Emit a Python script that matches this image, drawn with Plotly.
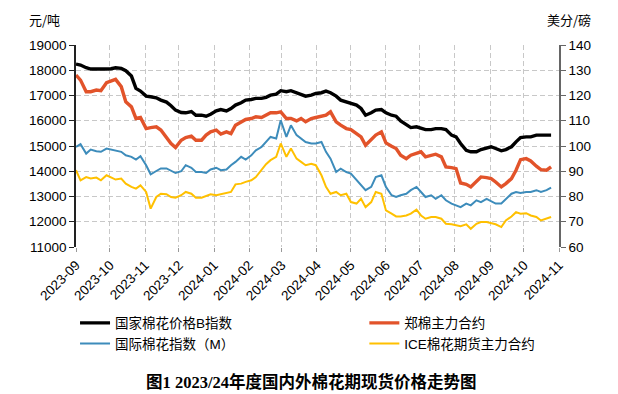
import plotly.graph_objects as go

dates = [
    "2023-09-01", "2023-09-05", "2023-09-10", "2023-09-14", "2023-09-19", "2023-09-23", "2023-09-28",
    "2023-10-02", "2023-10-06", "2023-10-11", "2023-10-15", "2023-10-20", "2023-10-24", "2023-10-28",
    "2023-11-02", "2023-11-06", "2023-11-11", "2023-11-15", "2023-11-20", "2023-11-24", "2023-11-28",
    "2023-12-03", "2023-12-07", "2023-12-12", "2023-12-16", "2023-12-21", "2023-12-25", "2023-12-29",
    "2024-01-03", "2024-01-07", "2024-01-12", "2024-01-16", "2024-01-20", "2024-01-25", "2024-01-29",
    "2024-02-03", "2024-02-07", "2024-02-12", "2024-02-16", "2024-02-20", "2024-02-25", "2024-02-29",
    "2024-03-05", "2024-03-09", "2024-03-14", "2024-03-18", "2024-03-22", "2024-03-27", "2024-03-31",
    "2024-04-05", "2024-04-09", "2024-04-13", "2024-04-18", "2024-04-22", "2024-04-27",
    "2024-05-01", "2024-05-06", "2024-05-10", "2024-05-14", "2024-05-19", "2024-05-23", "2024-05-28",
    "2024-06-01", "2024-06-06", "2024-06-10", "2024-06-14", "2024-06-19", "2024-06-23", "2024-06-28",
    "2024-07-02", "2024-07-06", "2024-07-11", "2024-07-15", "2024-07-20", "2024-07-24", "2024-07-29",
    "2024-08-02", "2024-08-06", "2024-08-11", "2024-08-15", "2024-08-20", "2024-08-24", "2024-08-29",
    "2024-09-02", "2024-09-06", "2024-09-11", "2024-09-15", "2024-09-20", "2024-09-24", "2024-09-28",
    "2024-10-03", "2024-10-07", "2024-10-12", "2024-10-16", "2024-10-21", "2024-10-25",
]

# 国家棉花价格B指数 (元/吨)
cc_index_b = [
    18246, 18206, 18100, 18047, 18047, 18034, 18047,
    18060, 18100, 18074, 17980, 17770, 17280, 17175,
    16976, 16950, 16910, 16817, 16738, 16592, 16420,
    16327, 16314, 16367, 16220, 16220, 16180, 16260,
    16390, 16445, 16390, 16485, 16620, 16710, 16817,
    16843, 16885, 16885, 16925, 17015, 17055, 17190,
    17150, 17190, 17110, 17055, 16975, 17015, 17080,
    17110, 17175, 17110, 16975, 16817, 16750,
    16685, 16620, 16485, 16220, 16315, 16420, 16445,
    16315, 16220, 16180, 15995, 15825, 15730, 15760,
    15720, 15650, 15650, 15690, 15690, 15650, 15430,
    15360, 15100, 14830, 14770, 14770, 14860, 14940,
    14970, 14900, 14810, 14860, 14970, 15165, 15335,
    15360, 15360, 15430, 15430, 15430, 15430,
]

# 郑棉主力合约 (元/吨)
zce_main = [
    17810, 17610, 17150, 17150, 17215, 17190, 17505,
    17585, 17640, 17350, 16750, 16550, 16090, 16130,
    15690, 15730, 15760, 15630, 15360, 15100, 14940,
    15230, 15335, 15390, 15230, 15230, 15430, 15560,
    15630, 15470, 15560, 15490, 15825, 15960, 16050,
    16090, 16155, 16130, 16220, 16315, 16315, 16355,
    16090, 16090, 15995, 16090, 15960, 16090, 16130,
    16180, 16220, 16355, 15960, 15825, 15690,
    15650, 15490, 15360, 15030, 15230, 15430, 15560,
    15125, 14990, 14900, 14635, 14500, 14635, 14700,
    14770, 14570, 14635, 14675, 14570, 14170, 14145,
    14105, 13535, 13480, 13380, 13575, 13775, 13750,
    13710, 13575, 13380, 13510, 13710, 14040, 14460,
    14500, 14410, 14200, 14065, 14040, 14170,
]

# 国际棉花指数（M）(美分/磅)
cotlook_m = [
    99.6, 100.7, 97.0, 98.6, 97.9, 97.7, 99.0,
    98.6, 98.3, 97.7, 96.3, 95.7, 94.6, 96.0,
    92.4, 88.8, 90.1, 91.1, 91.1, 90.1, 89.3,
    90.0, 92.4, 91.4, 89.7, 89.7, 89.3, 90.7,
    91.4, 90.4, 90.7, 92.4, 93.7, 95.7, 94.6,
    96.3, 98.3, 99.6, 101.6, 103.6, 103.0, 110.2,
    103.6, 108.2, 104.3, 103.0, 101.6, 101.0, 101.0,
    101.6, 97.7, 95.0, 89.7, 91.0, 89.7,
    89.1, 86.4, 84.4, 82.5, 83.8, 87.7, 88.4,
    83.8, 80.5, 79.8, 80.5, 81.1, 82.5, 83.8,
    81.8, 79.8, 80.5, 79.1, 80.5, 78.5, 77.2,
    76.5, 75.8, 77.2, 76.5, 78.5, 77.8, 79.1,
    78.2, 77.2, 77.2, 79.1, 81.1, 81.8, 81.4,
    81.8, 81.8, 82.5, 81.8, 82.5, 83.5,
]

# ICE棉花期货主力合约 (美分/磅)
ice_main = [
    90.4, 86.4, 87.7, 87.1, 87.5, 86.4, 88.4,
    87.5, 86.7, 87.1, 85.1, 83.8, 83.1, 84.4,
    81.8, 75.2, 79.8, 81.1, 80.9, 79.8, 79.5,
    80.5, 81.8, 81.1, 79.5, 79.5, 80.1, 80.9,
    80.5, 80.9, 81.1, 81.8, 84.8, 85.1, 85.8,
    86.4, 87.7, 90.4, 92.8, 94.4, 95.7, 101.0,
    95.7, 99.0, 95.0, 93.7, 92.4, 93.0, 92.4,
    88.4, 83.8, 81.1, 81.8, 80.5, 81.1,
    77.8, 77.2, 79.1, 75.8, 77.8, 81.8, 81.1,
    74.5, 73.2, 72.1, 72.1, 72.5, 73.2, 74.8,
    72.5, 71.2, 71.9, 71.9, 71.2, 69.2, 69.0,
    68.6, 68.2, 69.0, 67.2, 69.2, 69.9, 69.9,
    69.5, 69.0, 67.9, 70.5, 72.1, 73.8, 73.2,
    73.4, 72.5, 71.9, 70.5, 71.2, 71.9,
]

left_ticks = [11000, 12000, 13000, 14000, 15000, 16000, 17000, 18000, 19000]
right_ticks = [60, 70, 80, 90, 100, 110, 120, 130, 140]

FONT = "Liberation Sans, Arial, Noto Sans CJK SC, sans-serif"
GRID = "#C8C8C8"

fig = go.Figure()
fig.add_trace(go.Scatter(x=dates, y=zce_main, name="郑棉主力合约", mode="lines",
                         line=dict(color="#E2532A", width=3.4), legend="legend2"))
fig.add_trace(go.Scatter(x=dates, y=cc_index_b, name="国家棉花价格B指数", mode="lines",
                         line=dict(color="#000000", width=3.4), legend="legend"))
fig.add_trace(go.Scatter(x=dates, y=cotlook_m, name="国际棉花指数（M）", mode="lines",
                         line=dict(color="#3D8CBB", width=2), yaxis="y2", legend="legend"))
fig.add_trace(go.Scatter(x=dates, y=ice_main, name="ICE棉花期货主力合约", mode="lines",
                         line=dict(color="#FFC000", width=2), yaxis="y2", legend="legend2"))

# the page body adds an 8px offset, so the figure is 8px smaller and margins shifted
fig.update_layout(
    width=610, height=386,
    margin=dict(l=68, r=59, t=37, b=147, autoexpand=False),
    paper_bgcolor="white", plot_bgcolor="white",
    font=dict(family=FONT, size=13.5, color="#000000"),
    showlegend=True,
    xaxis=dict(
        type="date", range=["2023-09-01", "2024-11-01"],
        tick0="2023-09-01", dtick="M1", tickformat="%Y-%m", tickangle=-45,
        showgrid=True, gridcolor=GRID, griddash="5px,3px", gridwidth=1,
        showline=False, zeroline=False,
        ticks="outside", ticklen=4, tickcolor="#999999",
        tickfont=dict(size=13.5),
    ),
    yaxis=dict(
        range=[11000, 19000], tickvals=left_ticks, ticktext=[str(v) for v in left_ticks],
        showgrid=True, gridcolor=GRID, griddash="5px,3px", gridwidth=1,
        showline=True, linecolor="#222222", linewidth=1.6, zeroline=False,
        ticks="outside", ticklen=5, tickcolor="#222222",
        tickfont=dict(size=13.5),
    ),
    yaxis2=dict(
        range=[60, 140], tickvals=right_ticks, ticktext=[str(v) for v in right_ticks],
        overlaying="y", side="right", showgrid=False, zeroline=False,
        showline=True, linecolor="#666666", linewidth=1.6,
        ticks="outside", ticklen=5, tickcolor="#666666",
        tickfont=dict(size=13.5),
    ),
    legend=dict(x=-0.002, y=-0.3, xanchor="left", yanchor="top", orientation="v",
                bgcolor="rgba(0,0,0,0)", font=dict(size=13.5), tracegroupgap=0,
                itemwidth=30),
    legend2=dict(x=0.597, y=-0.3, xanchor="left", yanchor="top", orientation="v",
                 bgcolor="rgba(0,0,0,0)", font=dict(size=13.5), tracegroupgap=0,
                 itemwidth=30),
    annotations=[
        dict(text="元/吨", xref="paper", yref="paper", x=-0.066, y=1.124,
             xanchor="center", yanchor="middle", showarrow=False,
             font=dict(size=13, family="Noto Sans CJK SC")),
        dict(text="美分/磅", xref="paper", yref="paper", x=1.0217, y=1.124,
             xanchor="center", yanchor="middle", showarrow=False,
             font=dict(size=13, family="Noto Sans CJK SC")),
        dict(text="<b>图1 2023/24年度国内外棉花期现货价格走势图</b>", xref="paper", yref="paper",
             x=0.4865, y=-0.668, xanchor="center", yanchor="middle", showarrow=False,
             font=dict(size=16.5, family="Liberation Serif, Noto Sans CJK SC")),
    ],
)

fig.write_html("out.html")
